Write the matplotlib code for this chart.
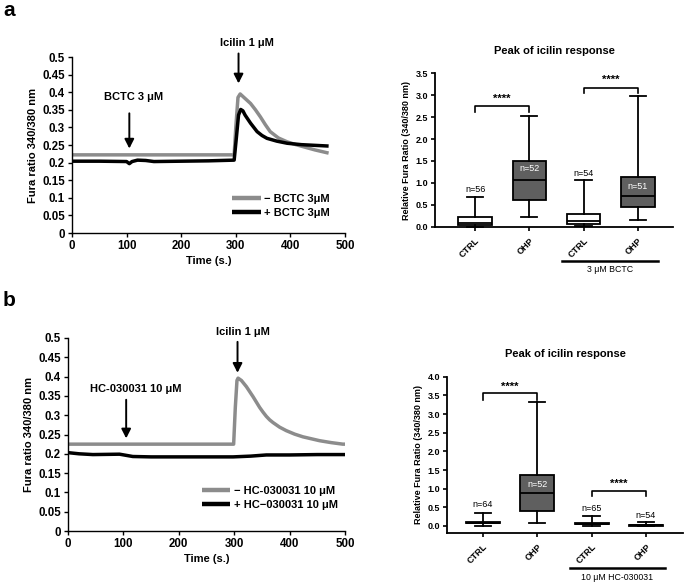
import matplotlib
matplotlib.use("Agg")
import matplotlib.pyplot as plt
import numpy as np

plt.rcParams['font.family'] = ['Liberation Sans', 'DejaVu Sans']

W, H = 685, 584

# ---------------- data ----------------
# panel a, time course
ta_minus = [0, 50, 100, 150, 200, 250, 297, 300, 304, 308, 315, 327, 336, 345, 354, 363, 378,
            394, 410, 424, 445, 467, 470]
ya_minus = [0.222, 0.222, 0.222, 0.222, 0.222, 0.222, 0.222, 0.30, 0.385, 0.395, 0.385, 0.368,
            0.350, 0.330, 0.308, 0.288, 0.270, 0.259, 0.251, 0.245, 0.236, 0.228, 0.227]
ta_plus = [0, 50, 100, 105, 110, 120, 135, 150, 200, 250, 297, 301, 305, 309, 313, 317, 327, 339,
           348, 357, 375, 394, 420, 445, 470]
ya_plus = [0.204, 0.204, 0.203, 0.197, 0.203, 0.207, 0.206, 0.203, 0.204, 0.205, 0.207, 0.27,
           0.335, 0.351, 0.347, 0.335, 0.312, 0.288, 0.277, 0.269, 0.261, 0.255, 0.251, 0.249, 0.247]

# panel b, time course
tb_minus = [0, 50, 100, 150, 200, 250, 299, 302, 305, 307, 313, 322, 334, 346, 352, 358, 364,
            370, 382, 394, 409, 424, 439, 454, 475, 496, 500]
yb_minus = [0.225, 0.225, 0.225, 0.225, 0.225, 0.225, 0.225, 0.32, 0.39, 0.396, 0.390, 0.374,
            0.348, 0.320, 0.308, 0.297, 0.288, 0.281, 0.269, 0.260, 0.251, 0.244, 0.239, 0.234,
            0.229, 0.225, 0.225]
tb_plus = [0, 20, 45, 93, 105, 117, 150, 177, 250, 298, 330, 358, 400, 450, 500]
yb_plus = [0.203, 0.200, 0.198, 0.199, 0.196, 0.193, 0.192, 0.192, 0.192, 0.192, 0.194, 0.197,
           0.197, 0.198, 0.198]

# box plots
cats = ["CTRL", "OHP", "CTRL", "OHP"]
a_min = [0.00, 0.21, 0.01, 0.16]
a_q1 = [0.05, 0.62, 0.07, 0.45]
a_med = [0.08, 1.07, 0.12, 0.70]
a_q3 = [0.21, 1.51, 0.28, 1.14]
a_max = [0.67, 2.52, 1.07, 2.98]
a_n = ["n=56", "n=52", "n=54", "n=51"]

b_min = [0.00, 0.07, -0.01, 0.00]
b_q1 = [0.07, 0.40, 0.04, 0.01]
b_med = [0.09, 0.89, 0.06, 0.02]
b_q3 = [0.12, 1.36, 0.09, 0.03]
b_max = [0.35, 3.31, 0.27, 0.12]
b_n = ["n=64", "n=52", "n=65", "n=54"]

fills = ["white", "#5f5f5f", "white", "#5f5f5f"]

fig = plt.figure(figsize=(W / 100, H / 100), dpi=100)


def rect(l, r, t, b):
    return [l / W, 1 - b / H, (r - l) / W, (b - t) / H]


GRAY = "#8c8c8c"
ARROW = dict(arrowstyle="-|>,head_width=0.28,head_length=0.55", color="black", lw=1.4,
             shrinkA=0, shrinkB=0)


def line_panel(ax, t1, y1, t2, y2, lab1, lab2, inh_text, inh_x, inh_ty, ic_x, ic_ty):
    ax.plot(t1, y1, color=GRAY, lw=2.5, solid_capstyle='butt', label=lab1)
    ax.plot(t2, y2, color="black", lw=2.5, solid_capstyle='butt', label=lab2)
    ax.set_xlim(0, 500)
    ax.set_ylim(0, 0.5)
    ax.set_xticks([0, 100, 200, 300, 400, 500])
    ax.set_yticks([0, 0.05, 0.1, 0.15, 0.2, 0.25, 0.3, 0.35, 0.4, 0.45, 0.5])
    ax.set_yticklabels(["0", "0.05", "0.1", "0.15", "0.2", "0.25", "0.3", "0.35", "0.4", "0.45", "0.5"])
    for s in ["top", "right"]:
        ax.spines[s].set_visible(False)
    for s in ["left", "bottom"]:
        ax.spines[s].set_linewidth(1.0)
    ax.tick_params(labelsize=8.3, length=3, width=1, pad=2)
    for lab in ax.get_xticklabels() + ax.get_yticklabels():
        lab.set_fontweight("bold")
    ax.set_xlabel("Time (s.)", fontsize=8, fontweight="bold", labelpad=3)
    ax.set_ylabel("Fura ratio 340/380 nm", fontsize=8, fontweight="bold", labelpad=3)
    # annotations
    ax.text(inh_x, inh_ty, inh_text, ha="center", va="center", fontsize=8, fontweight="bold")
    ax.annotate("", xy=(105, 0.24), xytext=(105, 0.34), arrowprops=ARROW)
    ax.text(ic_x, ic_ty, "Icilin 1 μM", ha="center", va="center", fontsize=8, fontweight="bold",
            clip_on=False)
    return ax


axa = fig.add_axes(rect(72, 345, 57, 233))
line_panel(axa, ta_minus, ya_minus, ta_plus, ya_plus, "− BCTC 3μM", "+ BCTC 3μM",
           "BCTC 3 μM", 113, 0.385, 320, 0.54)
axa.annotate("", xy=(305, 0.425), xytext=(305, 0.51), annotation_clip=False, arrowprops=ARROW)
leg = axa.legend(loc="lower right", bbox_to_anchor=(0.96, 0.06), frameon=False, fontsize=8,
                 handlelength=2.6, handletextpad=0.3, labelspacing=0.35, borderaxespad=0)
for t in leg.get_texts():
    t.set_fontweight("bold")
for h in leg.legend_handles:
    h.set_linewidth(3.2)

axb = fig.add_axes(rect(68, 345, 338, 531))
line_panel(axb, tb_minus, yb_minus, tb_plus, yb_plus, "− HC-030031 10 μM", "+ HC−030031 10 μM",
           "HC-030031 10 μM", 123, 0.368, 316, 0.515)
axb.annotate("", xy=(306, 0.41), xytext=(306, 0.49), annotation_clip=False, arrowprops=ARROW)
leg = axb.legend(loc="lower right", bbox_to_anchor=(0.99, 0.085), frameon=False, fontsize=8,
                 handlelength=2.6, handletextpad=0.3, labelspacing=0.35, borderaxespad=0)
for t in leg.get_texts():
    t.set_fontweight("bold")
for h in leg.legend_handles:
    h.set_linewidth(3.2)

fig.text(3 / W, 1 - 10 / H, "a", fontsize=15, fontweight="bold", va="center", ha="left")
fig.text(3 / W, 1 - 301 / H, "b", fontsize=15, fontweight="bold", va="center", ha="left")


def box_panel(ax, mins, q1s, meds, q3s, maxs, ns, n_pos, lims, yticks, brackets, group_label,
              grp_line, grp_text_y):
    stats = []
    for i in range(4):
        stats.append(dict(whislo=mins[i], q1=q1s[i], med=meds[i], q3=q3s[i], whishi=maxs[i],
                          fliers=[]))
    pos = [1, 2, 3, 4]
    bp = ax.bxp(stats, positions=pos, widths=0.62, patch_artist=True, showfliers=False,
                capwidths=0.3,
                boxprops=dict(linewidth=1.3, edgecolor="black"),
                medianprops=dict(color="black", linewidth=1.3),
                whiskerprops=dict(linewidth=1.3, color="black"),
                capprops=dict(linewidth=1.3, color="black"))
    for patch, fc in zip(bp["boxes"], fills):
        patch.set_facecolor(fc)
    for art in bp["boxes"] + bp["whiskers"] + bp["caps"] + bp["medians"]:
        art.set_clip_on(False)
    for i, (txt, (yy, inside)) in enumerate(zip(ns, n_pos)):
        ax.text(pos[i], yy, txt, ha="center", va="center", fontsize=6.5,
                color="white" if inside else "black")
    for (x1, x2, ytop, ylow, ystar) in brackets:
        ax.plot([x1, x1, x2, x2], [ylow, ytop, ytop, ylow], color="black", lw=1.2, clip_on=False)
        ax.text((x1 + x2) / 2, ystar, "****", ha="center", va="center", fontsize=8, fontweight="bold")
    ax.set_xlim(*lims[0])
    ax.set_ylim(*lims[1])
    ax.set_yticks(yticks)
    ax.set_yticklabels([f"{v:.1f}" for v in yticks])
    ax.set_xticks(pos)
    ax.set_xticklabels(cats, rotation=45, ha="right", va="top", rotation_mode="anchor")
    for s in ["top", "right"]:
        ax.spines[s].set_visible(False)
    for s in ["left", "bottom"]:
        ax.spines[s].set_linewidth(1.3)
    ax.tick_params(labelsize=6.5, length=3, width=1.2, pad=2)
    ax.tick_params(axis="x", pad=4)
    for lab in ax.get_xticklabels() + ax.get_yticklabels():
        lab.set_fontweight("bold")
    ax.set_ylabel("Relative Fura Ratio (340/380 nm)", fontsize=6.5, fontweight="bold", labelpad=3)
    ax.set_title("Peak of icilin response", fontsize=8, fontweight="bold", pad=14)
    # group label under axis
    (gx1, gx2, gy) = grp_line
    fig.add_artist(plt.Line2D([gx1 / W, gx2 / W], [1 - gy / H, 1 - gy / H], color="black", lw=1.8))
    fig.text((gx1 + gx2) / 2 / W, 1 - grp_text_y / H, group_label, ha="center", va="center",
             fontsize=6.3)


axc = fig.add_axes(rect(435, 673, 73.3, 226.7))
box_panel(axc, a_min, a_q1, a_med, a_q3, a_max, a_n,
          [(0.86, False), (1.33, True), (1.22, False), (0.92, True)],
          [(0.26, 4.65), (0, 3.5)], [0, 0.5, 1.0, 1.5, 2.0, 2.5, 3.0, 3.5],
          [(1, 2, 2.75, 2.62, 2.92), (3, 4, 3.17, 3.04, 3.35)],
          "3 μM BCTC", (562, 658, 261), 269)

axd = fig.add_axes(rect(447, 683, 376.7, 532.7))
box_panel(axd, b_min, b_q1, b_med, b_q3, b_max, b_n,
          [(0.57, False), (1.12, True), (0.48, False), (0.27, False)],
          [(0.34, 4.68), (-0.18, 4.0)], [0, 0.5, 1.0, 1.5, 2.0, 2.5, 3.0, 3.5, 4.0],
          [(1, 2, 3.55, 3.38, 3.72), (3, 4, 0.95, 0.80, 1.12)],
          "10 μM HC-030031", (570, 665, 568), 577)

fig.savefig("out.png", dpi=100)
